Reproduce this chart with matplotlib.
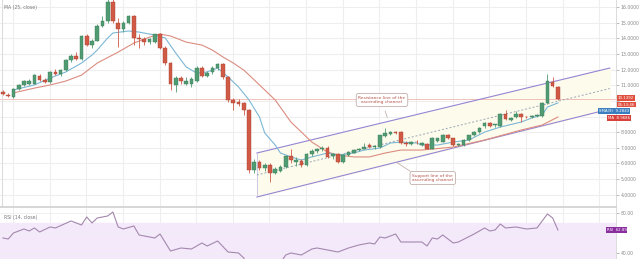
import numpy as np
import matplotlib.pyplot as plt
from matplotlib.transforms import blended_transform_factory

# OHLC (one entry per candle)
opens = [10.6, 10.4, 10.25, 10.75, 11.0, 11.1, 11.1, 11.6, 11.35, 11.2,
         11.85, 11.7, 11.95, 12.6, 12.85, 12.65, 14.15, 13.55, 13.85, 14.8,
         15.1, 16.35, 15.0, 14.6, 15.0, 15.4, 14.0, 13.95, 13.75, 13.75,
         14.25, 13.4, 12.4, 11.0, 11.45, 11.1, 11.05, 11.3, 12.1, 11.6,
         11.85, 12.1, 12.35, 11.5, 10.05, 9.95, 9.85, 9.4, 5.6, 6.1,
         5.7, 5.9, 5.4, 5.55, 5.75, 6.45, 6.1, 6.15, 5.9, 6.6,
         6.8, 6.9, 7.0, 6.45, 6.6, 6.1, 6.55, 6.7, 6.85, 6.95,
         7.2, 7.05, 7.05, 7.75, 7.9, 8.0, 8.0, 7.3, 7.25, 7.4,
         7.2, 7.25, 6.95, 7.45, 7.4, 7.8, 7.6, 7.2, 7.2, 7.5,
         7.8, 8.0, 8.4, 8.6, 8.45, 8.4, 9.15, 8.8, 8.95, 9.15,
         9.0, 8.95, 9.05, 9.05, 9.85, 11.2, 10.9]
highs = [10.7, 10.5, 10.8, 11.05, 11.35, 11.4, 11.75, 11.7, 11.45, 11.9,
         12.05, 12.05, 12.7, 13.0, 13.1, 14.2, 14.3, 13.95, 14.9, 15.4,
         16.5, 16.5, 15.3, 15.1, 15.5, 15.5, 14.3, 14.1, 14.05, 14.3,
         14.35, 13.5, 12.5, 11.6, 11.6, 11.5, 11.5, 12.2, 12.2, 11.9,
         12.2, 12.45, 12.45, 11.6, 10.2, 10.1, 9.95, 9.5, 6.3, 6.2,
         6.05, 6.0, 5.8, 5.9, 6.5, 6.9, 6.4, 6.3, 6.65, 6.9,
         7.0, 7.1, 7.1, 6.7, 6.7, 6.6, 6.8, 6.95, 7.0, 7.3,
         7.3, 7.2, 7.85, 8.25, 8.1, 8.05, 8.05, 7.45, 7.45, 7.5,
         7.35, 7.3, 7.7, 7.65, 7.9, 7.9, 7.65, 7.3, 7.55, 7.85,
         8.05, 8.35, 8.65, 8.65, 8.55, 9.25, 9.45, 8.95, 9.35, 9.2,
         9.05, 9.1, 9.15, 9.9, 11.75, 11.5, 10.95]
lows = [10.4, 10.25, 10.2, 10.7, 10.95, 11.0, 11.05, 11.3, 11.15, 11.15,
        11.65, 11.6, 11.9, 12.5, 12.6, 12.6, 13.5, 13.4, 13.8, 14.7,
        15.0, 15.0, 13.45, 14.4, 14.9, 13.6, 13.4, 13.6, 13.65, 13.7,
        13.3, 12.3, 10.7, 10.6, 11.1, 11.0, 10.9, 11.2, 11.5, 11.5,
        11.75, 12.0, 11.4, 9.95, 9.45, 9.7, 9.1, 5.4, 5.4, 5.6,
        5.55, 4.8, 5.3, 5.45, 5.7, 6.0, 5.85, 5.8, 5.85, 6.5,
        6.7, 6.8, 6.35, 6.3, 6.0, 6.0, 6.5, 6.65, 6.8, 6.9,
        7.0, 6.95, 7.0, 7.7, 7.85, 7.9, 7.25, 7.1, 7.2, 7.25,
        7.1, 6.9, 6.9, 7.4, 7.35, 7.55, 7.15, 7.15, 7.15, 7.45,
        7.75, 7.95, 8.3, 8.35, 8.35, 8.35, 8.8, 8.7, 8.9, 8.65,
        8.9, 8.9, 9.0, 9.0, 9.8, 10.9, 10.05]
closes = [10.45, 10.3, 10.75, 11.0, 11.3, 11.3, 11.65, 11.35, 11.2, 11.85,
          11.7, 11.95, 12.6, 12.9, 12.7, 14.15, 13.6, 13.85, 14.8, 15.1,
          16.35, 15.1, 14.6, 15.0, 15.4, 14.05, 13.95, 13.75, 13.95, 14.25,
          13.4, 12.4, 11.05, 11.45, 11.25, 11.3, 11.4, 12.1, 11.6, 11.8,
          12.1, 12.35, 11.5, 10.05, 9.85, 9.8, 9.4, 5.6, 6.1, 5.7,
          5.9, 5.4, 5.65, 5.8, 6.45, 6.2, 6.25, 5.9, 6.6, 6.8,
          6.95, 7.0, 6.4, 6.6, 6.1, 6.55, 6.75, 6.85, 6.95, 7.05,
          7.05, 7.15, 7.8, 7.95, 8.0, 7.95, 7.3, 7.25, 7.4, 7.35,
          7.3, 6.95, 7.65, 7.6, 7.85, 7.6, 7.2, 7.25, 7.5, 7.8,
          8.0, 8.3, 8.6, 8.4, 8.5, 9.15, 8.85, 8.9, 9.15, 9.0,
          8.95, 9.05, 9.1, 9.85, 11.25, 10.95, 10.1]

# moving averages, read at some candles
fast_idx = [2, 6, 9, 12, 15, 17, 18, 20, 21, 24, 26, 29, 31, 33, 35, 37, 39, 41,
            43, 45, 47, 49, 50, 52, 53, 55, 57, 59, 62, 64, 67, 69, 72, 74, 76,
            79, 80, 83, 86, 89, 92, 95, 99, 101, 103, 104, 106]
fast_ma = [10.70, 11.02, 11.46, 11.85, 12.42, 12.93, 13.25, 14.02, 14.34, 14.47,
           14.40, 14.21, 14.02, 13.06, 12.17, 11.78, 11.85, 12.10, 11.53, 10.89,
           10.06, 8.97, 7.95, 7.18, 6.67, 6.42, 6.22, 6.42, 6.67, 6.54, 6.67,
           6.86, 6.99, 7.31, 7.37, 7.31, 7.18, 7.18, 7.37, 7.50, 8.01, 8.33,
           8.65, 8.91, 9.10, 9.61, 9.87]
slow_idx = [2, 6, 9, 12, 15, 18, 22, 25, 28, 30, 32, 35, 38, 40, 42, 44, 46, 48,
            50, 52, 55, 59, 62, 64, 67, 70, 73, 76, 80, 86, 92, 99, 103, 106]
slow_ma = [10.51, 10.82, 11.02, 11.27, 11.65, 12.42, 13.12, 13.70, 14.08, 14.27,
           14.15, 13.76, 13.57, 13.25, 12.81, 12.42, 11.97, 11.34, 10.70, 10.06,
           8.65, 7.37, 6.73, 6.54, 6.42, 6.42, 6.67, 6.86, 6.86, 7.05, 7.50,
           8.14, 8.46, 8.97]

rsi_idx = [0, 1, 2, 4, 5, 6, 7, 9, 10, 13, 15, 16, 17, 18, 20, 21, 22, 23, 25,
           26, 27, 29, 30, 32, 34, 36, 38, 39, 41, 43, 45, 46, 47, 48, 49, 50,
           51, 52, 53, 54, 55, 57, 59, 60, 62, 64, 66, 68, 70, 71, 72, 73, 75,
           76, 78, 80, 81, 82, 83, 84, 86, 87, 90, 92, 93, 94, 95, 96, 98, 100,
           102, 104, 105, 106]
rsi_vals = [55, 54, 60, 64, 62, 65, 61, 66, 65, 72, 68, 76, 70, 75, 77, 81, 66,
            64, 67, 58, 57, 55, 59, 42, 45, 44, 50, 47, 52, 41, 40, 35, 22, 28,
            25, 28, 23, 27, 30, 38, 40, 38, 44, 45, 43, 41, 45, 48, 50, 49, 56,
            55, 59, 51, 51, 51, 47, 55, 54, 58, 50, 51, 59, 65, 62, 63, 69, 65,
            66, 64, 65, 79, 75, 63]

# ascending channel drawing
chan_x = [48.5, 115.9]
chan_upper = [6.67, 12.10]
chan_lower = [3.86, 9.48]

price_ticks = [4, 5, 6, 7, 8, 9, 10, 11, 12, 13, 14, 15, 16]
hidden_ticks = [9, 10]      # covered by the value labels
last_price = 10.1392

GREEN = '#4f9b72'
RED = '#d05a46'
GRID = '#eeeeee'
TXT = '#888888'

fig = plt.figure(figsize=(6.4, 2.59), dpi=100)
ax = fig.add_axes([0, 0.2008, 616 / 640, 0.7992])
ax2 = fig.add_axes([0, 0, 616 / 640, 0.197], sharex=ax)

x = np.arange(len(opens))
o = np.array(opens)
c = np.array(closes)
up = c >= o
cols = np.where(up, GREEN, RED)

# grid (every 7 candles)
grid_x = np.arange(1.9, 117, 7)
for a in (ax, ax2):
    for gx in grid_x:
        a.axvline(gx, color=GRID, lw=0.8, zorder=0)
for p in price_ticks:
    ax.axhline(p, color=GRID, lw=0.8, zorder=0)

# channel
ax.fill_between(chan_x, chan_lower, chan_upper, color='#fdfbec', zorder=1)
ax.plot(chan_x, chan_upper, color='#9585d4', lw=0.8, zorder=2)
ax.plot(chan_x, chan_lower, color='#9585d4', lw=0.8, zorder=2)
ax.plot([chan_x[0], chan_x[0]], [chan_lower[0], chan_upper[0]], color='#c8c0e6', lw=0.6, zorder=2)
mid = [(chan_lower[0] + chan_upper[0]) / 2, (chan_lower[1] + chan_upper[1]) / 2]
ax.plot(chan_x, mid, color='#9aa5b5', lw=0.7, ls=(0, (2, 2)), zorder=2)

# last price line
ax.axhline(closes[-1], color='#f0b8b0', lw=0.6, zorder=1)

# MAs
ax.plot(slow_idx, slow_ma, color='#dc8c80', lw=0.8, zorder=3)
ax.plot(fast_idx, fast_ma, color='#7cb7d6', lw=0.8, zorder=3)

# candles
ax.vlines(x, lows, highs, colors=cols, lw=0.6, zorder=4)
bh = np.maximum(np.abs(c - o), 0.05)
ax.bar(x, bh, bottom=np.minimum(o, c), width=0.7, color=cols,
       edgecolor=np.where(up, '#3c7d5a', '#a84434'), linewidth=0.3, zorder=5)

ax.set_xlim(-0.57, 117.1)
ax.set_ylim(3.22, 16.45)
ax.yaxis.tick_right()
ax.set_yticks(price_ticks)
ax.set_yticklabels(['' if p in hidden_ticks else '%.4f' % p for p in price_ticks])
ax.tick_params(axis='y', labelsize=3.3, colors=TXT, length=2, width=0.4, pad=1.5)
ax.tick_params(axis='x', bottom=False, labelbottom=False)
for s in ['top', 'left']:
    ax.spines[s].set_visible(False)
ax.spines['right'].set_color('#d6d6d6')
ax.spines['right'].set_linewidth(0.6)
ax.spines['bottom'].set_color('#d0d0d0')
ax.spines['bottom'].set_linewidth(1.2)
ax.axvline(-0.2, color='#dddddd', lw=0.8)

ax.text(0.006, 0.975, 'MA (25, close)', transform=ax.transAxes, fontsize=3.3,
        color='#777777', va='top', ha='left')

# annotations
ax.text(72.4, 10.06, 'Resistance line of the\nascending channel', fontsize=3.2,
        color='#b4534b', ha='center', va='center', zorder=7,
        bbox=dict(boxstyle='round,pad=0.5', fc='white', ec='#b7a09a', lw=0.5))
ax.plot([73.0, 73.4], [9.35, 8.95], color='#b7a09a', lw=0.5, zorder=7)
ax.text(82.1, 5.07, 'Support line of the\nascending channel', fontsize=3.2,
        color='#b4534b', ha='center', va='center', zorder=7,
        bbox=dict(boxstyle='round,pad=0.5', fc='white', ec='#b7a09a', lw=0.5))
ax.plot([77.8, 75.3], [5.5, 6.05], color='#b7a09a', lw=0.5, zorder=7)

# right-side value labels
tr = blended_transform_factory(ax.transAxes, ax.transData)
lab = dict(transform=tr, fontsize=2.8, color='white', ha='left', va='center',
           clip_on=False, zorder=8)
ax.text(1.003, last_price + 0.06, '%.4f' % last_price,
        bbox=dict(boxstyle='square,pad=0.2', fc='#e0503e', ec='none'), **lab)
ax.text(1.003, last_price - 0.38, '06:13:46',
        bbox=dict(boxstyle='square,pad=0.2', fc='#e0503e', ec='none'), **lab)
ax.text(0.972, 9.36, 'SMA(9)  9.2843',
        bbox=dict(boxstyle='square,pad=0.2', fc='#3b7fc0', ec='none'), **lab)
ax.text(0.987, 8.92, 'MA  8.9686',
        bbox=dict(boxstyle='square,pad=0.2', fc='#d9413c', ec='none'), **lab)

# RSI panel
ax2.axhspan(30, 70, color='#f4e8fb', zorder=0)
for h in (40, 60, 80):
    ax2.axhline(h, color=GRID, lw=0.6, zorder=0)
ax2.plot(rsi_idx, rsi_vals, color='#a488ad', lw=0.8, zorder=3)
ax2.set_ylim(34, 85)
ax2.yaxis.tick_right()
ax2.set_yticks([40, 80])
ax2.set_yticklabels(['40.00', '80.00'])
ax2.tick_params(axis='y', labelsize=3.3, colors=TXT, length=2, width=0.4, pad=1.5)
ax2.tick_params(axis='x', bottom=False, labelbottom=False)
for s in ['top', 'left', 'bottom']:
    ax2.spines[s].set_visible(False)
ax2.spines['right'].set_color('#d6d6d6')
ax2.spines['right'].set_linewidth(0.6)
ax2.text(0.006, 0.86, 'RSI (14, close)', transform=ax2.transAxes, fontsize=3.3,
         color='#777777', va='top', ha='left')
tr2 = blended_transform_factory(ax2.transAxes, ax2.transData)
ax2.text(0.985, 62.89, 'RSI  62.89', transform=tr2, fontsize=2.8, color='white',
         ha='left', va='center', clip_on=False, zorder=8,
         bbox=dict(boxstyle='square,pad=0.2', fc='#8a2d9e', ec='none'))

fig.savefig('out.png', dpi=100)
